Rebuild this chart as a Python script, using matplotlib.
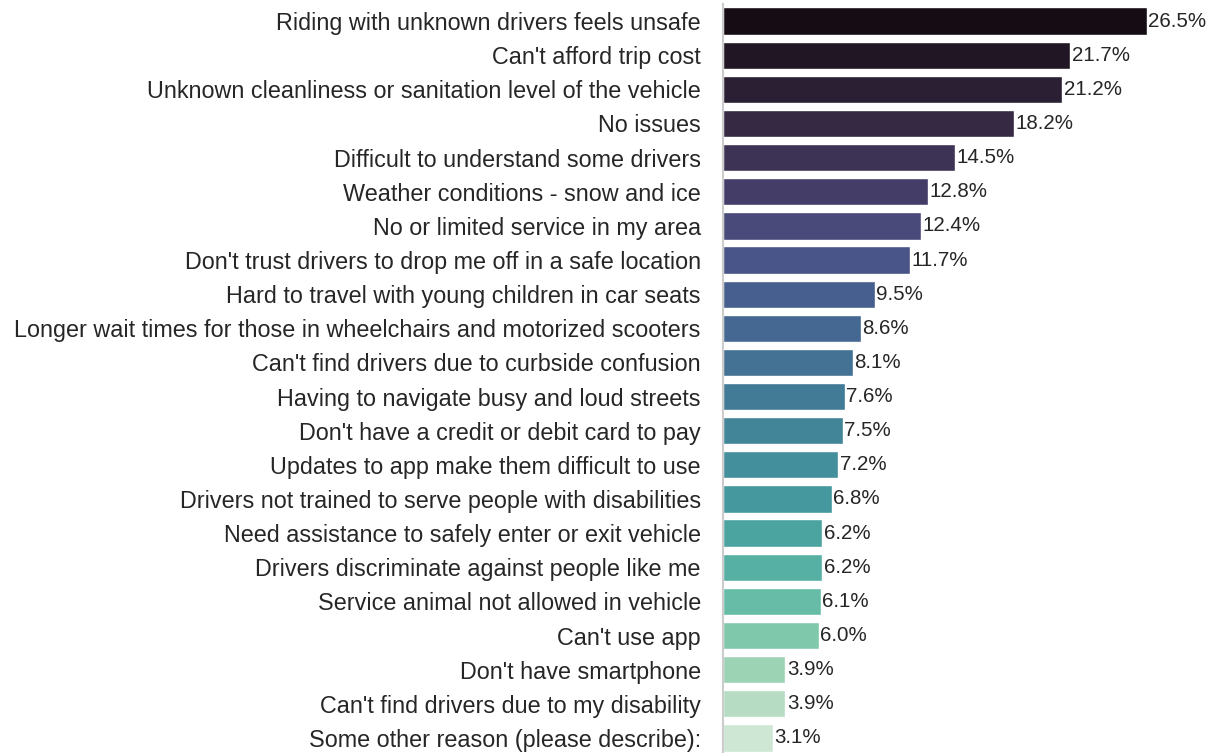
import matplotlib
matplotlib.use("Agg")
import matplotlib.pyplot as plt
import seaborn as sns

# Reasons and share of respondents (%)
reasons = [
    "Riding with unknown drivers feels unsafe",
    "Can't afford trip cost",
    "Unknown cleanliness or sanitation level of the vehicle",
    "No issues",
    "Difficult to understand some drivers",
    "Weather conditions - snow and ice",
    "No or limited service in my area",
    "Don't trust drivers to drop me off in a safe location",
    "Hard to travel with young children in car seats",
    "Longer wait times for those in wheelchairs and motorized scooters",
    "Can't find drivers due to curbside confusion",
    "Having to navigate busy and loud streets",
    "Don't have a credit or debit card to pay",
    "Updates to app make them difficult to use",
    "Drivers not trained to serve people with disabilities",
    "Need assistance to safely enter or exit vehicle",
    "Drivers discriminate against people like me",
    "Service animal not allowed in vehicle",
    "Can't use app",
    "Don't have smartphone",
    "Can't find drivers due to my disability",
    "Some other reason (please describe):",
]
percent = [26.5, 21.7, 21.2, 18.2, 14.5, 12.8, 12.4, 11.7, 9.5, 8.6, 8.1,
           7.6, 7.5, 7.2, 6.8, 6.2, 6.2, 6.1, 6.0, 3.9, 3.9, 3.1]

sns.set_style("white")
plt.rcParams["font.family"] = ["Liberation Sans", "DejaVu Sans"]

# mako palette, desaturated the way seaborn's barplot does it
colors = [sns.desaturate(c, 0.75) for c in sns.color_palette("mako", len(reasons))]

fig = plt.figure(figsize=(12.15, 7.53), dpi=100)
ax = fig.add_axes([723 / 1215, -2 / 753, 480 / 1215, 751 / 753])

pos = list(range(len(reasons)))
bars = ax.barh(pos, percent, height=0.8, color=colors,
               edgecolor="white", linewidth=1)
ax.set_ylim(len(reasons) - 0.5, -0.5)
ax.set_xlim(0, 30)

ax.set_yticks(pos)
ax.set_yticklabels(reasons, fontsize=16.8, color="0.15")
ax.tick_params(axis="y", length=0, pad=16)
ax.set_xticks([])

ax.bar_label(bars, labels=[f"{v:.1f}%" for v in percent],
             padding=1, fontsize=14.8, color="0.15")

for side in ["top", "right", "bottom"]:
    ax.spines[side].set_visible(False)
ax.spines["left"].set_color("0.8")
ax.spines["left"].set_linewidth(1.5)

fig.savefig("out.png", dpi=100)
